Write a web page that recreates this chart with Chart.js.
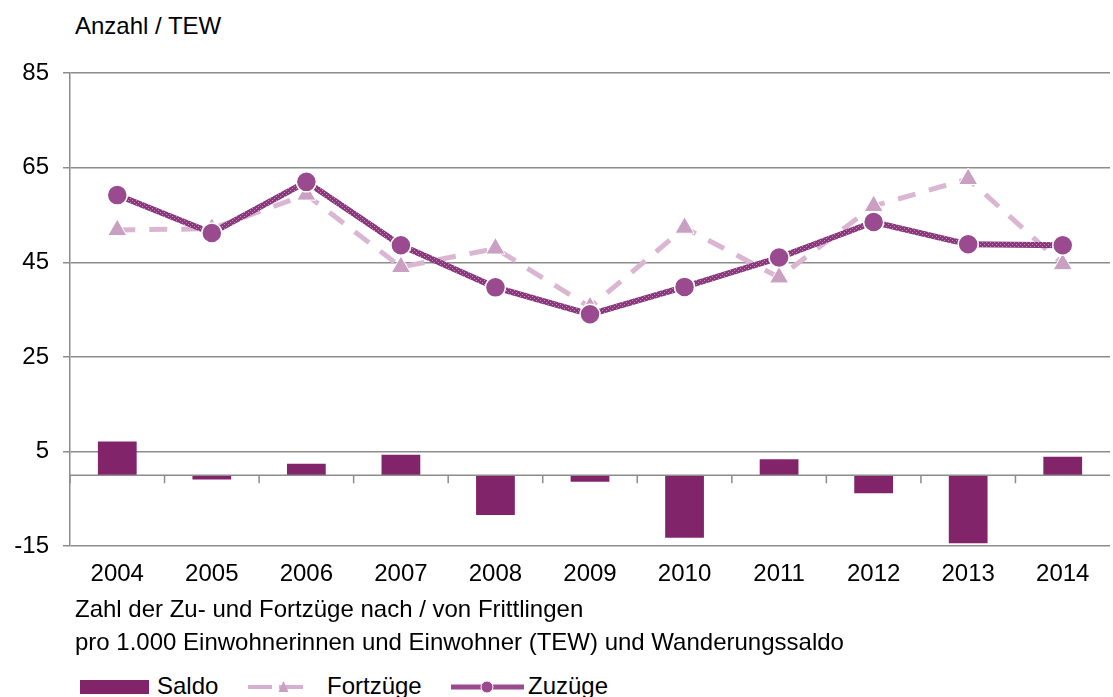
<!DOCTYPE html>
<html>
<head>
<meta charset="utf-8">
<script src="https://cdn.jsdelivr.net/npm/chart.js@4"></script>
<style>
    body { margin: 0; width: 1113px; height: 697px; overflow: hidden; position: relative; background: #fff;
           font-family: "Liberation Sans", Arial, sans-serif; color: #000; }
    #yTitle { position: absolute; left: 75px; top: 12px; font-size: 24px; line-height: 28px; }
    #chartBox { position: absolute; left: 0; top: 0; }
    #caption { position: absolute; left: 75px; top: 592px; font-size: 24px; line-height: 33px; white-space: nowrap; }
    #legend { position: absolute; left: 0; top: 672px; }
</style>
</head>
<body>
<div id="yTitle">Anzahl / TEW</div>
<div id="chartBox"><canvas id="myChart" width="1122" height="609"></canvas></div>
<div id="caption">Zahl der Zu- und Fortzüge nach / von Frittlingen<br>pro 1.000 Einwohnerinnen und Einwohner (TEW) und Wanderungssaldo</div>
<svg id="legend" width="700" height="25" font-family="Liberation Sans, Arial, sans-serif" font-size="24">
    <rect x="80" y="8" width="69" height="14" fill="#82246a"></rect>
    <text x="157" y="22">Saldo</text>
    <line x1="248" y1="15" x2="310" y2="15" stroke="#d7b0cf" stroke-width="4" stroke-dasharray="24 7 0 0"></line>
    <polygon points="283.5,9 288.5,20 278.5,20" fill="#c99fc2"></polygon>
    <text x="327" y="22">Fortzüge</text>
    <line x1="451" y1="15" x2="524" y2="15" stroke="#9a4a8e" stroke-width="5"></line>
    <circle cx="487" cy="15" r="6" fill="#9a4a8e" stroke="#fff" stroke-width="1"></circle>
    <text x="528" y="22">Zuzüge</text>
</svg>
<script>
const years = ['2004', '2005', '2006', '2007', '2008', '2009', '2010', '2011', '2012', '2013', '2014'];
const saldo = [7.1, -0.9, 2.4, 4.3, -8.4, -1.4, -13.2, 3.4, -3.8, -14.4, 3.9];
const zuzuege = [59.2, 51.2, 62.0, 48.6, 39.7, 34.0, 39.8, 46.0, 53.5, 48.8, 48.6];
const fortzuege = [51.8, 52.1, 59.3, 44.0, 47.9, 35.5, 52.3, 41.8, 56.9, 62.6, 44.6];
const yTicks = [-15, 5, 25, 45, 65, 85];

const gridColor = '#8c8c8c';

// small texture for the Zuzüge line
function makePattern() {
    const c = document.createElement('canvas');
    c.width = 4;
    c.height = 4;
    const g = c.getContext('2d');
    g.fillStyle = '#8a387e';
    g.fillRect(0, 0, 4, 4);
    g.fillStyle = '#c790bb';
    g.fillRect(0, 0, 1, 1);
    g.fillRect(2, 2, 1, 1);
    return g.createPattern(c, 'repeat');
}

// zero line with category tick marks
const zeroAxis = {
    id: 'zeroAxis',
    afterDatasetsDraw(chart) {
        const { ctx, chartArea, scales: { x, y } } = chart;
        const y0 = y.getPixelForValue(0);
        ctx.save();
        ctx.strokeStyle = gridColor;
        ctx.lineWidth = 1.5;
        ctx.beginPath();
        ctx.moveTo(chartArea.left, y0);
        ctx.lineTo(chartArea.right, y0);
        for (let i = 1; i < years.length; i++) {
            const px = (x.getPixelForValue(i - 1) + x.getPixelForValue(i)) / 2;
            ctx.moveTo(px, y0);
            ctx.lineTo(px, y0 + 8);
        }
        ctx.moveTo(chartArea.left, y0);
        ctx.lineTo(chartArea.left, y0 + 8);
        ctx.stroke();
        ctx.restore();
    }
};

const ctx = document.getElementById('myChart').getContext('2d');
const myChart = new Chart(ctx, {
    type: 'bar',
    data: {
        labels: years,
        datasets: [{
            type: 'line',
            label: 'Zuzüge',
            data: zuzuege,
            order: 0,
            borderColor: makePattern(),
            borderWidth: 6,
            pointStyle: 'circle',
            pointRadius: 10,
            pointBackgroundColor: '#9a4a8e',
            pointBorderColor: '#ffffff',
            pointBorderWidth: 1.5,
            tension: 0
        }, {
            type: 'line',
            label: 'Fortzüge',
            data: fortzuege,
            order: 1,
            borderColor: '#dab6d2',
            borderWidth: 5,
            borderDash: [18, 14],
            pointStyle: 'triangle',
            pointRadius: 11,
            pointBackgroundColor: '#c99fc2',
            pointBorderColor: '#ffffff',
            pointBorderWidth: 1,
            tension: 0
        }, {
            label: 'Saldo',
            data: saldo,
            order: 2,
            backgroundColor: '#82246a',
            barPercentage: 0.41,
            categoryPercentage: 1
        }]
    },
    options: {
        responsive: false,
        animation: false,
        layout: { padding: { top: 73, right: 0, bottom: 14, left: 0 } },
        plugins: {
            legend: { display: false },
            tooltip: { enabled: false }
        },
        scales: {
            x: {
                grid: { display: false },
                border: { display: false },
                ticks: {
                    padding: 6,
                    color: '#000',
                    font: { family: 'Liberation Sans', size: 24 }
                }
            },
            y: {
                min: -15,
                max: 85,
                afterBuildTicks: (scale) => {
                    scale.ticks = yTicks.map(v => ({ value: v }));
                },
                afterFit: (scale) => {
                    scale.width = 70;
                },
                grid: {
                    color: gridColor,
                    lineWidth: 1.5,
                    tickLength: 7,
                    tickColor: gridColor
                },
                border: { display: true, color: gridColor, width: 1.5 },
                ticks: {
                    padding: 14,
                    color: '#000',
                    font: { family: 'Liberation Sans', size: 24 }
                }
            }
        }
    },
    plugins: [zeroAxis]
});
</script>
</body>
</html>
